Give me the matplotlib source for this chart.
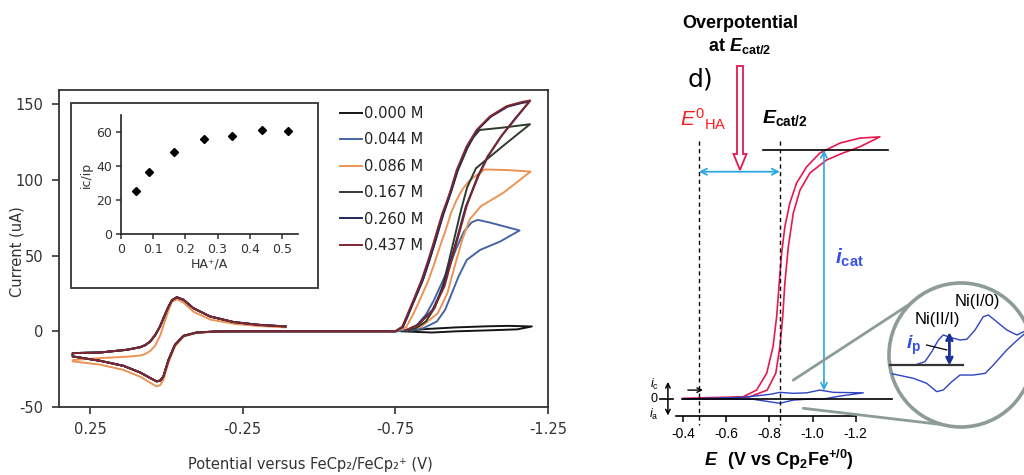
import numpy as np
import matplotlib
matplotlib.use("Agg")
import matplotlib.pyplot as plt
from matplotlib.patches import Rectangle, Circle, FancyArrow, ConnectionPatch

plt.rcParams["font.family"] = "DejaVu Sans"
plt.rcParams["mathtext.fontset"] = "custom"
plt.rcParams["mathtext.rm"] = "Liberation Sans"
plt.rcParams["mathtext.it"] = "Liberation Sans:italic"
plt.rcParams["mathtext.bf"] = "Liberation Sans:bold"
plt.rcParams["mathtext.bfit"] = "Liberation Sans:italic:bold"

# ===============================
# DATA - left panel (CV, current in uA vs E in V)
# ===============================
conc_labels = ["0.000 M", "0.044 M", "0.086 M", "0.167 M", "0.260 M", "0.437 M"]
conc_colors = ["#151515", "#4566a3", "#eb9455", "#2e3a2c", "#26265f", "#7e2830"]

# ferrocene wave, upper branch (right -> left) then lower branch (left -> right)
fc_up_E = [-0.39, -0.30, -0.22, -0.143, -0.088, -0.056, -0.034, -0.018, -0.007, 0.008,
           0.021, 0.037, 0.053, 0.07, 0.086, 0.13, 0.217, 0.307]
fc_up_i = [3.2, 4.3, 6.1, 9.8, 15.3, 20.8, 22.5, 20.5, 16.4, 9.5,
           3.2, -2.5, -6.7, -9.2, -10.5, -12.2, -14.0, -14.4]
fc_dn_E = [0.307, 0.217, 0.141, 0.086, 0.053, 0.032, 0.02, 0.01, -0.007, -0.028,
           -0.056, -0.099, -0.165, -0.25]
fc_dn_i = [-16.6, -19.5, -22.8, -27.2, -30.9, -33.1, -32.5, -29.8, -18.8, -8.9,
           -3.0, -0.8, -0.1, 0.0]
# the 0.086 M trace sits a bit apart
fc_up_i_086 = [2.6, 3.5, 5.0, 7.8, 13.0, 19.0, 21.2, 19.5, 14.0, 5.0,
               -3.0, -9.5, -13.0, -15.0, -16.0, -16.8, -17.7, -19.0]
fc_dn_i_086 = [-19.9, -22.0, -25.5, -30.0, -34.0, -36.4, -35.5, -32.0, -20.5, -10.0,
               -3.5, -1.0, -0.2, 0.0]

# catalytic waves: forward (to -1.2 V) and return
c000_fwd_E = [-0.75, -0.79, -0.85, -0.95, -1.05, -1.12, -1.197]
c000_fwd_i = [0.0, 0.5, 1.5, 2.6, 3.3, 3.6, 3.2]
c000_ret_E = [-1.15, -1.05, -0.95, -0.87, -0.82, -0.77]
c000_ret_i = [1.3, 0.6, 0.0, -0.8, -0.4, 0.0]

c044_fwd_E = [-0.75, -0.79, -0.82, -0.85, -0.875, -0.90, -0.925, -0.95, -0.975, -1.0,
              -1.02, -1.06, -1.157]
c044_fwd_i = [0.0, 1.0, 4.0, 11.0, 20.0, 31.0, 42.0, 55.0, 66.0, 72.0,
              73.6, 71.8, 66.6]
c044_ret_E = [-1.093, -1.028, -0.984, -0.957, -0.935, -0.913, -0.886, -0.842, -0.80]
c044_ret_i = [59.3, 53.8, 47.2, 36.2, 25.2, 14.2, 6.5, 2.1, 0.5]

c086_fwd_E = [-0.75, -0.785, -0.81, -0.835, -0.859, -0.878, -0.896, -0.915, -0.932, -0.95,
              -0.969, -0.99, -1.012, -1.042, -1.12, -1.193]
c086_fwd_i = [0.0, 2.5, 11.9, 23.0, 34.0, 45.0, 56.0, 67.0, 78.0, 86.5,
              93.6, 99.0, 102.5, 106.9, 106.5, 105.5]
c086_ret_E = [-1.103, -1.03, -0.993, -0.969, -0.944, -0.92, -0.889, -0.834, -0.785]
c086_ret_i = [91.4, 82.6, 73.8, 60.5, 42.8, 25.0, 11.9, 3.0, 0.4]

c167_fwd_E = [-0.75, -0.775, -0.79, -0.815, -0.84, -0.86, -0.877, -0.893, -0.908, -0.92,
              -0.932, -0.954, -0.986, -1.005, -1.026, -1.10, -1.191]
c167_fwd_i = [0.0, 3.0, 10.0, 22.0, 34.0, 46.0, 57.0, 68.0, 78.0, 85.0,
              92.0, 106.0, 121.0, 128.0, 133.0, 134.5, 136.8]
c167_ret_E = [-1.10, -1.014, -0.985, -0.965, -0.945, -0.925, -0.905, -0.88, -0.85, -0.815, -0.785]
c167_ret_i = [122.0, 107.7, 95.0, 80.0, 63.0, 46.0, 30.0, 16.0, 6.5, 1.8, 0.3]

c260_fwd_E = [-0.75, -0.775, -0.79, -0.815, -0.84, -0.86, -0.877, -0.893, -0.908, -0.92,
              -0.932, -0.954, -0.986, -1.019, -1.063, -1.118, -1.164, -1.189]
c260_fwd_i = [0.0, 3.0, 10.0, 22.0, 34.0, 46.0, 57.0, 68.0, 78.0, 85.0,
              92.0, 106.6, 122.0, 133.0, 141.8, 148.4, 150.8, 151.7]
c260_ret_E = [-1.14, -1.096, -1.052, -1.019, -0.998, -0.981, -0.957, -0.932, -0.908,
              -0.871, -0.822, -0.785]
c260_ret_i = [139.6, 128.6, 115.4, 102.0, 91.0, 82.6, 65.0, 47.2, 29.6, 14.0, 4.1, 0.8]

c437_fwd_E = [-0.75, -0.772, -0.787, -0.812, -0.836, -0.856, -0.873, -0.889, -0.904, -0.917,
              -0.929, -0.951, -0.983, -1.016, -1.06, -1.115, -1.165, -1.192]
c437_fwd_i = [0.0, 3.0, 10.0, 22.0, 34.0, 46.0, 57.0, 68.0, 78.0, 85.0,
              92.0, 106.6, 122.0, 133.0, 142.0, 148.8, 151.5, 152.5]
c437_ret_E = [-1.142, -1.099, -1.055, -1.022, -1.0, -0.984, -0.96, -0.935, -0.911,
              -0.874, -0.825, -0.787]
c437_ret_i = [140.5, 129.5, 116.0, 102.5, 91.5, 83.0, 65.5, 47.5, 29.8, 14.2, 4.2, 0.8]

# inset: ic/ip vs HA+/A
inset_x = [0.047, 0.087, 0.166, 0.258, 0.344, 0.437, 0.52]
inset_y = [25.1, 36.3, 48.0, 55.9, 57.8, 61.0, 60.4]

# ===============================
# DATA - right panel (schematic CV, arbitrary current)
# ===============================
red_E = [-0.401, -0.678, -0.741, -0.788, -0.817, -0.834, -0.846, -0.857, -0.872, -0.895,
         -0.926, -0.973, -1.034, -1.127, -1.219, -1.312,
         -1.219, -1.141, -1.065, -0.988, -0.942, -0.911, -0.888, -0.872, -0.862, -0.849,
         -0.830, -0.790, -0.710, -0.602, -0.417]
red_i = [0.3, 0.9, 3.6, 10.4, 20.9, 33.1, 46.6, 58.6, 69.2, 78.7,
         86.7, 93.3, 98.8, 102.8, 104.8, 105.3,
         101.3, 98.8, 96.0, 90.8, 83.9, 74.7, 61.2, 46.6, 33.1, 21.0,
         10.4, 3.6, 0.9, 0.3, 0.0]
blue_E = [-0.401, -0.679, -0.803, -0.849, -0.911, -0.973, -1.034, -1.096, -1.235,
          -1.127, -1.050, -0.988, -0.911, -0.849, -0.803, -0.726, -0.602, -0.417]
blue_i = [0.0, 0.7, 1.9, 2.7, 2.3, 2.5, 3.6, 2.7, 2.5,
          1.2, 0.0, 0.0, -0.4, -1.7, -1.1, -0.1, 0.0, 0.0]
# magnified view in the circle
mag_E = [-0.644, -0.737, -0.779, -0.808, -0.836, -0.857, -0.886, -0.928, -0.957, -0.992,
         -1.027, -1.049, -1.084, -1.127, -1.17, -1.23,
         -1.17, -1.127, -1.07, -1.035, -0.985, -0.928, -0.893, -0.857, -0.829, -0.786,
         -0.729, -0.644, -0.60]
mag_i = [0.0, 0.0, 0.3, 1.19, 2.24, 2.69, 2.48, 2.24, 2.3, 3.14,
         4.33, 4.48, 3.88, 3.14, 2.69, 3.3,
         2.2, 1.35, 0.0, -0.75, -0.9, -0.9, -1.5, -2.24, -2.39, -1.64,
         -1.19, -0.81, -0.7]

E0_HA = -0.474
E_cat2 = -0.849
i_cat_level = 100
E_icat = -1.053

W, H = 1024, 475
def fx(px):
    return px / W
def fy(py):
    return 1 - py / H

fig = plt.figure(figsize=(10.24, 4.75), dpi=100)

# ===============================
# 1. LEFT PANEL
# ===============================
ax = fig.add_axes([fx(59), fy(407), (548 - 59) / W, (407 - 90) / H])
fwd = [(c000_fwd_E, c000_fwd_i, c000_ret_E, c000_ret_i),
       (c044_fwd_E, c044_fwd_i, c044_ret_E, c044_ret_i),
       (c086_fwd_E, c086_fwd_i, c086_ret_E, c086_ret_i),
       (c167_fwd_E, c167_fwd_i, c167_ret_E, c167_ret_i),
       (c260_fwd_E, c260_fwd_i, c260_ret_E, c260_ret_i),
       (c437_fwd_E, c437_fwd_i, c437_ret_E, c437_ret_i)]
for k in range(len(conc_labels)):
    fE, fI, rE, rI = fwd[k]
    if conc_labels[k] == "0.086 M":
        up_i, dn_i = fc_up_i_086, fc_dn_i_086
    else:
        up_i, dn_i = fc_up_i, fc_dn_i
    E = np.concatenate([fc_up_E, fc_dn_E, fE, rE])
    I = np.concatenate([up_i, dn_i, fI, rI])
    ax.plot(E, I, color=conc_colors[k], lw=1.4, label=conc_labels[k])

ax.set_xlim(0.352, -1.25)
ax.set_ylim(-50, 159.4)
ax.set_xticks([0.25, -0.25, -0.75, -1.25])
ax.set_xticklabels(["0.25", "-0.25", "-0.75", "-1.25"])
ax.set_yticks([-50, 0, 50, 100, 150])
ax.set_yticklabels(["-50", "0", "50", "100", "150"])
ax.tick_params(direction="out", length=5, width=1.2, labelsize=10.5, colors="#333333", pad=6)
for s in ax.spines.values():
    s.set_color("#333333")
    s.set_linewidth(1.3)

fig.text(fx(17), fy(252), "Current (uA)", rotation=90, ha="center", va="center",
         fontsize=10.5, color="#333333")
fig.text(fx(310), fy(464), "Potential versus FeCp\u2082/FeCp\u2082\u207a (V)", ha="center",
         va="center", fontsize=10.5, color="#333333")

leg = ax.legend(loc="upper left", bbox_to_anchor=(fx(340), fy(106)),
                bbox_transform=fig.transFigure, frameon=False, fontsize=10.5,
                handlelength=1.5, handletextpad=0.15, labelspacing=0.78, borderpad=0,
                borderaxespad=0)
for t in leg.get_texts():
    t.set_color("#222222")

# inset frame and inset axes
fig.add_artist(Rectangle((fx(71), fy(288)), 247 / W, 185 / H, transform=fig.transFigure,
                         fc="white", ec="#333333", lw=1.3, zorder=1))
axI = fig.add_axes([fx(121), fy(234), 177 / W, 119 / H], zorder=2)
axI.plot(inset_x, inset_y, "D", color="black", ms=4)
axI.set_xlim(0, 0.55)
axI.set_ylim(0, 70)
axI.set_xticks([0, 0.1, 0.2, 0.3, 0.4, 0.5])
axI.set_xticklabels(["0", "0.1", "0.2", "0.3", "0.4", "0.5"])
axI.set_yticks([0, 20, 40, 60])
axI.spines["top"].set_visible(False)
axI.spines["right"].set_visible(False)
for s in axI.spines.values():
    s.set_color("#222222")
    s.set_linewidth(1.2)
axI.tick_params(direction="out", length=3.5, width=1.1, labelsize=9, colors="#333333", pad=3)
axI.set_xlabel("HA\u207a/A", fontsize=9, color="#333333", labelpad=1)
axI.set_ylabel("ic/ip", fontsize=9, color="#333333", labelpad=2)

# ===============================
# 2. RIGHT PANEL
# ===============================
red = "#e5194e"
blue = "#2d43c0"
lblue = "#2aa7e1"
navy = "#1b2f92"
grey = "#8d9c98"
rfont = "Liberation Sans"

axR = fig.add_axes([fx(660), fy(416), (1024 - 660) / W, (416 - 100) / H], zorder=3)
axR.patch.set_visible(False)
axR.set_xlim(-0.294, -1.979)
axR.set_ylim(-6.8, 120.1)
for side in ["top", "right", "left"]:
    axR.spines[side].set_visible(False)
axR.spines["bottom"].set_bounds(-0.37, -1.2)
axR.spines["bottom"].set_linewidth(1.2)
axR.set_yticks([])
axR.set_xticks([-0.4, -0.6, -0.8, -1.0, -1.2])
axR.set_xticklabels(["-0.4", "-0.6", "-0.8", "-1.0", "-1.2"], fontfamily=rfont)
axR.tick_params(direction="out", length=4, width=1.1, labelsize=10, pad=4)

axR.plot(red_E, red_i, color=red, lw=1.2)
axR.plot(blue_E, blue_i, color=blue, lw=1.0)
axR.plot([-0.394, -1.366], [0, 0], color="black", lw=1.2)
axR.plot([-0.294, -0.354], [0, 0], color="black", lw=1.2, clip_on=False)
axR.plot([-0.770, -1.349], [i_cat_level, i_cat_level], color="black", lw=1.2)
for e in [E0_HA, E_cat2]:
    axR.plot([e, e], [103.6, -10.5], color="black", lw=1.0, ls=(0, (3, 2.5)), clip_on=False)

axR.annotate("", xy=(E0_HA, 91.3), xytext=(E_cat2, 91.3),
             arrowprops=dict(arrowstyle="<->", color=lblue, lw=1.3, shrinkA=0, shrinkB=0,
                             mutation_scale=11))
axR.annotate("", xy=(E_icat, i_cat_level), xytext=(E_icat, 3.4),
             arrowprops=dict(arrowstyle="<->", color=lblue, lw=1.2, shrinkA=0, shrinkB=0,
                             mutation_scale=11))
axR.annotate("", xy=(-0.493, 3.6), xytext=(-0.423, 3.6),
             arrowprops=dict(arrowstyle="->", color="black", lw=1.0, shrinkA=0, shrinkB=0,
                             mutation_scale=8))
axR.annotate("", xy=(-0.3306, 6.9), xytext=(-0.3306, -6.6), annotation_clip=False,
             arrowprops=dict(arrowstyle="<->", color="black", lw=1.1, shrinkA=0, shrinkB=0,
                             mutation_scale=8))

# hollow red arrow (overpotential)
fig.add_artist(FancyArrow(fx(740), fy(66), 0, -(170 - 66) / H, width=6 / W, head_width=13 / W,
                          head_length=16 / H, length_includes_head=True,
                          transform=fig.transFigure, fc="white", ec=red, lw=1.3, zorder=4))

# magnifier circle
axC = fig.add_axes([fx(889), fy(427), 144 / W, 144 / H], zorder=5)
axC.set_xlim(-0.626, -1.2385)
axC.set_ylim(-5.56, 7.35)
axC.axis("off")
circ = Circle((0.5, 0.5), 0.5, transform=axC.transAxes, fc="white", ec=grey, lw=2.6,
              clip_on=False, zorder=0)
axC.add_patch(circ)
ln, = axC.plot(mag_E, mag_i, color=blue, lw=1.0)
ln.set_clip_path(circ)
axC.plot([-0.63, -0.94], [0, 0], color="#333333", lw=1.6)
axC.annotate("", xy=(-0.883, 2.95), xytext=(-0.883, -0.05),
             arrowprops=dict(arrowstyle="<->", color=navy, lw=2.0, shrinkA=0, shrinkB=0,
                             mutation_scale=10))
axC.plot([-0.786, -0.8715], [1.79, 1.35], color="black", lw=0.9)
axC.text(-0.907, 5.65, "Ni(I/0)", ha="left", va="center", fontsize=12, family=rfont)
axC.text(-0.737, 4.04, "Ni(II/I)", ha="left", va="center", fontsize=12, family=rfont)
axC.text(-0.698, 1.79, r"$\mathbfit{i}_{\mathbf{p}}$", ha="left", va="center",
         fontsize=14, color="#3550e6")

fig.add_artist(ConnectionPatch(xyA=(-0.9106, 7.6), coordsA=axR.transData, xyB=(0.169, 0.87),
                               coordsB=axC.transAxes, color=grey, lw=2.0, zorder=4))
fig.add_artist(ConnectionPatch(xyA=(-0.957, -3.7), coordsA=axR.transData, xyB=(0.51, 0.0),
                               coordsB=axC.transAxes, color=grey, lw=2.0, zorder=4))

# texts
fig.text(fx(740), fy(23), "Overpotential", ha="center", va="center", fontsize=13,
         fontweight="bold", family=rfont)
fig.text(fx(740), fy(46), r"at $\mathbfit{E}_{\mathbf{cat/2}}$", ha="center", va="center",
         fontsize=13, fontweight="bold", family=rfont)
fig.text(fx(700), fy(80), "d)", ha="center", va="center", fontsize=18)
fig.text(fx(680), fy(119), r"$\mathit{E}^{0}{}_{\mathrm{HA}}$", ha="left", va="center",
         fontsize=15, color="#ff1a1a")
fig.text(fx(762), fy(118), r"$\mathbfit{E}_{\mathbf{cat/2}}$", ha="left", va="center",
         fontsize=14)
fig.text(fx(835), fy(258), r"$\mathbfit{i}_{\mathbf{cat}}$", ha="left", va="center",
         fontsize=15, color="#3550e6")
fig.text(fx(654), fy(384), r"$\mathit{i}_{\mathrm{c}}$", ha="center", va="center", fontsize=9)
fig.text(fx(654), fy(399), "0", ha="center", va="center", fontsize=9, family=rfont)
fig.text(fx(654), fy(414), r"$\mathit{i}_{\mathrm{a}}$", ha="center", va="center", fontsize=9)
fig.text(fx(779), fy(460), r"$\mathbfit{E}$  $\mathbf{(V\ vs\ Cp_2Fe^{+/0})}$", ha="center",
         va="center", fontsize=13)

fig.savefig("out.png", dpi=100)
